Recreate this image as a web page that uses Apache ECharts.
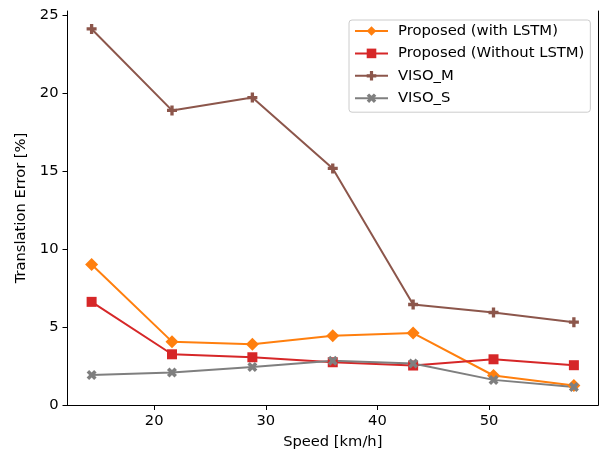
<!DOCTYPE html>
<html><head><meta charset="utf-8">
<script src="https://cdn.jsdelivr.net/npm/echarts@6/dist/echarts.min.js"></script>
<style>html,body{margin:0;padding:0;background:#fff}#c{width:600px;height:455px}</style>
</head><body><div id="c"></div>
<script>
const speeds = [14.4, 21.6, 28.8, 36.0, 43.2, 50.4, 57.6];
const withLSTM = [9.0, 4.06, 3.89, 4.44, 4.61, 1.89, 1.25];
const withoutLSTM = [6.61, 3.25, 3.06, 2.74, 2.53, 2.93, 2.55];
const visoM = [24.1, 18.88, 19.7, 15.16, 6.44, 5.93, 5.31];
const visoS = [1.93, 2.08, 2.44, 2.83, 2.66, 1.61, 1.15];
const xTicks = [20, 30, 40, 50];
const yTicks = [0, 5, 10, 15, 20, 25];
const names = ['Proposed (with LSTM)', 'Proposed (Without LSTM)', 'VISO_M', 'VISO_S'];

const FONT = 'DejaVu Sans';
const FS = 14.7;
const plusPath = 'path://M1,0L2,0L2,1L3,1L3,2L2,2L2,3L1,3L1,2L0,2L0,1L1,1Z';
const xPath = 'path://M3,0L4,1L3,2L4,3L3,4L2,3L1,4L0,3L1,2L0,1L1,0L2,1Z';

function pairs(ys) { return speeds.map((x, i) => [x, ys[i]]); }
function mk(name, ys, color, symbol, size) {
  return {
    name, type: 'line', data: pairs(ys), color,
    symbol, symbolSize: size, showSymbol: true,
    lineStyle: { width: 2, color },
    itemStyle: { color, borderWidth: 0 },
    emphasis: { disabled: true }, animation: false
  };
}
const chart = echarts.init(document.getElementById('c'), null, { renderer: 'canvas' });
const axisLine = { show: true, lineStyle: { color: '#000', width: 1 } };
chart.setOption({
  animation: false,
  backgroundColor: '#fff',
  textStyle: { fontFamily: FONT },
  grid: { left: 67.5, right: 2, top: 11, bottom: 47, containLabel: false },
  legend: {
    data: names, orient: 'vertical', left: 349, top: 20,
    padding: [3, 6, 6, 5], itemWidth: 33, itemHeight: 12, itemGap: 6.4,
    borderColor: '#cccccc', borderWidth: 1, borderRadius: 3, backgroundColor: 'rgba(255,255,255,0.8)',
    textStyle: { fontFamily: FONT, fontSize: 14.8, color: '#000', lineHeight: 16, padding: [0, 0, 0, 5] },
    selectedMode: false
  },
  xAxis: [{
    type: 'value', min: 12.24, max: 59.76, position: 'bottom',
    name: 'Speed [km/h]', nameLocation: 'middle', nameGap: 30,
    nameTextStyle: { fontFamily: FONT, fontSize: FS, color: '#000' },
    axisLine, splitLine: { show: false },
    axisTick: { show: true, inside: false, length: 5, lineStyle: { color: '#000' }, customValues: xTicks },
    axisLabel: { fontFamily: FONT, fontSize: FS, color: '#000', margin: 9, customValues: xTicks }
  }, {
    type: 'value', min: 12.24, max: 59.76, position: 'top',
    axisLine, axisTick: { show: false }, axisLabel: { show: false }, splitLine: { show: false }
  }],
  yAxis: [{
    type: 'value', min: 0, max: 25.25, position: 'left',
    name: 'Translation Error [%]', nameLocation: 'middle', nameGap: 32, nameRotate: 90,
    nameTextStyle: { fontFamily: FONT, fontSize: FS, color: '#000' },
    axisLine, splitLine: { show: false },
    axisTick: { show: true, inside: false, length: 5, lineStyle: { color: '#000' }, customValues: yTicks },
    axisLabel: { fontFamily: FONT, fontSize: FS, color: '#000', margin: 9, customValues: yTicks }
  }, {
    type: 'value', min: 0, max: 25.25, position: 'right',
    axisLine, axisTick: { show: false }, axisLabel: { show: false }, splitLine: { show: false }
  }],
  series: [
    mk(names[0], withLSTM, '#ff7f0e', 'diamond', 13),
    mk(names[1], withoutLSTM, '#d62728', 'rect', 10),
    mk(names[2], visoM, '#8c564b', plusPath, 10),
    mk(names[3], visoS, '#7f7f7f', xPath, 10)
  ]
});
</script></body></html>
